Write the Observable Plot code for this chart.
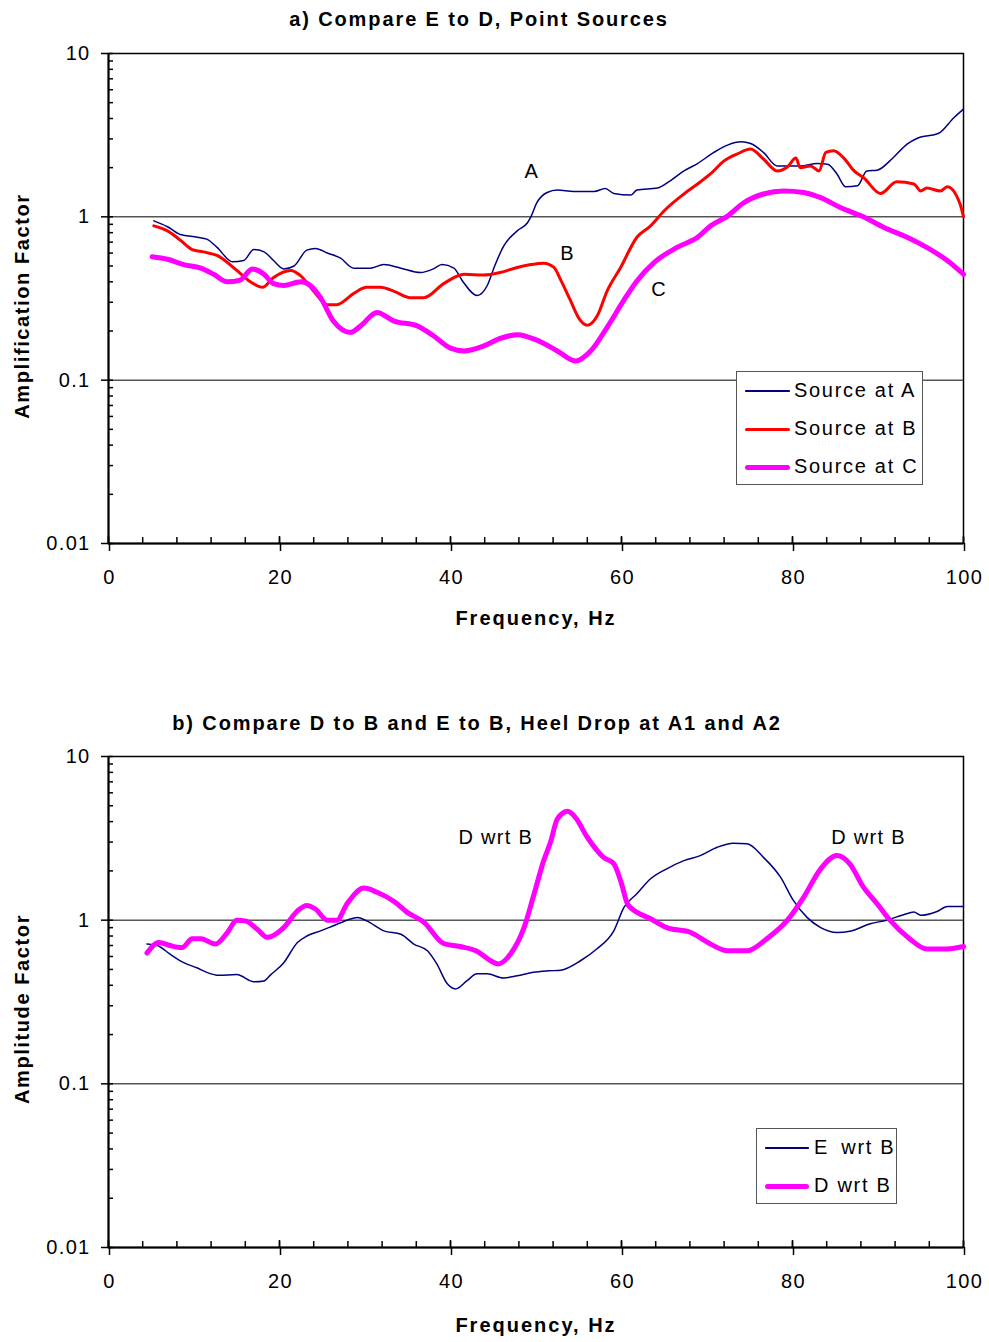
<!DOCTYPE html>
<html><head><meta charset="utf-8">
<script src="https://cdn.jsdelivr.net/npm/d3@7"></script>
<script src="https://cdn.jsdelivr.net/npm/@observablehq/plot@0.6"></script>
<style>
body{margin:0;background:#fff;}
#page{position:relative;width:989px;height:1342px;background:#fff;font-family:"Liberation Sans",Arial,sans-serif;overflow:hidden;}
.abs{position:absolute;white-space:pre;}
.title{font-weight:bold;font-size:20px;letter-spacing:1.9px;transform:translate(-50%,-50%);}
.xlab{font-weight:bold;font-size:20px;letter-spacing:2.0px;transform:translate(-50%,-50%);}
.ylab{font-weight:bold;font-size:20px;letter-spacing:1.6px;transform:translate(-50%,-50%) rotate(-90deg);}
.legend{border:1px solid #555;background:#fff;font-size:20px;letter-spacing:1.7px;}
.row{position:absolute;left:0;height:20px;}
.swatch{position:absolute;left:8px;top:10px;width:45px;}
.ltxt{position:absolute;top:-2px;white-space:pre;}
svg text{letter-spacing:1.3px;}
</style></head>
<body><div id="page"></div>
<script>
// ---------- data: chart a ----------
const aFreq = [5.3,6.9,8.4,10.4,11.5,12.7,14.5,15.8,17.0,18.2,19.3,20.5,21.7,23.2,24.2,25.6,27.1,28.7,30.6,32.2,34.2,36.5,38.0,39.0,40.4,41.4,43.1,44.3,45.1,46.2,47.8,49.0,49.4,50.1,51.3,52.5,54.4,56.8,58.1,59.1,61.1,61.8,64.2,65.7,67.3,68.9,70.8,72.4,74.0,75.1,76.6,78.2,80.9,82.9,84.1,85.2,86.2,87.6,88.7,89.9,91.8,93.4,94.6,97.1,98.9,100];
const aAmp  = [0.945,0.87,0.78,0.75,0.73,0.65,0.53,0.54,0.63,0.61,0.54,0.48,0.50,0.625,0.64,0.60,0.56,0.485,0.485,0.51,0.485,0.456,0.48,0.51,0.485,0.405,0.33,0.38,0.49,0.66,0.82,0.92,1.0,1.22,1.41,1.46,1.43,1.43,1.49,1.39,1.36,1.46,1.50,1.66,1.91,2.12,2.48,2.75,2.88,2.81,2.48,2.05,2.05,2.12,2.1,1.83,1.53,1.55,1.91,1.93,2.31,2.79,3.03,3.25,4.06,4.57];
const bFreq = [5.3,6.9,8.4,9.8,11.1,12.7,15.0,16.6,18.0,19.3,21.3,22.5,24.0,25.6,26.7,28.7,30.2,31.8,33.4,35.3,36.9,39.2,41.6,43.9,45.8,47.8,49.4,50.9,52.1,52.9,54.0,55.0,56.0,57.2,58.3,59.9,61.8,63.4,65.0,67.3,68.9,70.4,72.0,73.5,75.1,76.6,78.2,79.4,80.4,80.9,82.1,83.1,83.9,84.8,86.0,87.2,88.3,90.3,92.2,94.2,95.0,95.7,97.3,98.1,99.6,100];
const bAmp  = [0.88,0.82,0.72,0.63,0.61,0.58,0.47,0.40,0.37,0.425,0.47,0.435,0.35,0.29,0.29,0.34,0.37,0.37,0.35,0.32,0.32,0.39,0.445,0.44,0.456,0.49,0.51,0.52,0.49,0.41,0.31,0.24,0.217,0.25,0.35,0.49,0.75,0.88,1.09,1.38,1.59,1.83,2.2,2.42,2.60,2.26,1.91,2.02,2.29,2.0,2.05,1.91,2.48,2.54,2.29,1.91,1.74,1.39,1.64,1.59,1.44,1.50,1.44,1.53,1.2,1.0];
const cFreq = [5.1,6.9,8.8,10.8,12.3,13.9,15.4,16.8,18.2,19.3,20.5,22.5,23.6,24.8,26.3,28.3,29.5,31.4,33.4,36.1,38.0,40.0,41.6,43.9,45.8,47.8,50.1,52.5,54.6,56.4,58.3,60.3,61.8,63.8,66.5,68.9,70.4,72.4,74.3,76.6,79.0,81.3,83.3,85.6,88.3,90.7,93.4,95.7,98.1,100];
const cAmp  = [0.57,0.55,0.51,0.485,0.445,0.40,0.41,0.48,0.445,0.39,0.38,0.40,0.38,0.32,0.23,0.196,0.215,0.26,0.23,0.215,0.187,0.157,0.151,0.162,0.18,0.19,0.176,0.151,0.131,0.151,0.21,0.31,0.405,0.525,0.65,0.75,0.88,1.01,1.22,1.38,1.44,1.41,1.31,1.14,1.0,0.86,0.75,0.65,0.54,0.445];
// ---------- data: chart b ----------
const eFreq = [4.5,5.7,7.2,8.8,10.4,11.5,12.9,15.0,17.0,18.2,18.9,20.5,22.1,23.2,24.8,26.3,27.9,29.1,30.2,32.2,34.2,35.7,37.3,38.4,39.6,40.6,41.9,43.1,44.3,46.2,47.8,49.7,51.5,52.9,55.2,57.1,59.1,60.3,61.8,63.4,65.3,67.3,69.2,71.2,73.1,74.7,76.6,78.6,80.1,81.7,83.3,85.2,86.7,89.1,91.0,93.0,94.2,95.0,96.9,98.1,100];
const eAmp  = [0.715,0.70,0.62,0.55,0.51,0.48,0.46,0.465,0.42,0.425,0.46,0.55,0.73,0.80,0.86,0.925,1.0,1.04,0.99,0.86,0.82,0.715,0.65,0.54,0.41,0.38,0.425,0.47,0.47,0.443,0.457,0.48,0.49,0.495,0.565,0.667,0.86,1.2,1.45,1.79,2.06,2.31,2.48,2.79,2.95,2.93,2.42,1.83,1.32,1.04,0.90,0.84,0.855,0.95,1.0,1.08,1.12,1.07,1.13,1.21,1.21];
const dFreq = [4.5,5.9,7.2,8.6,9.8,10.8,12.5,13.9,15.0,16.0,17.4,18.6,20.5,22.1,23.2,24.2,25.6,26.7,27.9,29.9,31.4,33.4,34.9,36.9,39.2,41.1,43.1,44.7,45.6,47.0,48.6,49.7,50.9,51.7,52.5,53.7,54.6,56.0,57.9,59.1,59.9,60.8,63.4,65.3,68.1,70.4,72.4,74.7,77.0,79.4,81.3,83.3,85.2,86.7,88.3,89.9,91.4,93.7,95.7,98.1,100];
const dAmp  = [0.63,0.73,0.70,0.68,0.77,0.77,0.715,0.84,1.0,0.99,0.88,0.785,0.90,1.14,1.23,1.17,1.0,1.0,1.26,1.57,1.48,1.30,1.12,0.97,0.72,0.69,0.645,0.565,0.54,0.62,0.90,1.40,2.31,3.0,4.16,4.63,4.25,3.21,2.42,2.21,1.74,1.23,1.02,0.90,0.84,0.715,0.65,0.65,0.77,1.0,1.38,2.06,2.48,2.21,1.59,1.26,1.0,0.77,0.667,0.667,0.69];
// ---------- ticks & labels ----------
const xMajor = [0,20,40,60,80,100];
const xMinor = d3.range(0,101,4);
const yMajor = [0.01,0.1,1,10];
const yMinor = [0.01,0.1,1].flatMap(b => [2,3,4,5,6,7,8,9].map(k => +(b*k).toPrecision(3)));
const gridVals = [0.1,1];
const annA = [{x:49.5,y:1.89,t:"A"},{x:53.7,y:0.593,t:"B"},{x:64.4,y:0.357,t:"C"}];
const annB = [{x:45.3,y:3.2,t:"D wrt B"},{x:88.9,y:3.2,t:"D wrt B"}];

const toRows = (f,a) => f.map((x,i)=>({x, y:a[i]}));
const NAVY="#000080", RED="#ff0000", MAG="#ff00ff";

function makePlot(height, mt, mb, series, ann){
  return Plot.plot({
    width: 989, height,
    marginLeft: 108, marginRight: 26, marginTop: mt, marginBottom: mb,
    x: {domain:[0,100]},
    y: {type:"log", domain:[0.01,10]},
    style: {fontFamily:'"Liberation Sans", Arial, sans-serif', fontSize:"20px", background:"transparent", color:"black"},
    marks: [
      Plot.ruleY(gridVals, {stroke:"black", strokeWidth:1}),
      Plot.frame({stroke:"black", strokeWidth:1.5}),
      Plot.ruleX([0], {stroke:"black", strokeWidth:2}),
      Plot.ruleY([0.01], {stroke:"black", strokeWidth:2}),
      Plot.axisX(xMajor, {tickSize:8, tickPadding:18, tickFormat:d=>String(d), label:null, fontSize:20, strokeWidth:1.5, dx:1}),
      Plot.axisX(xMajor, {tickSize:-7, tickFormat:()=>"", label:null, strokeWidth:1.5}),
      Plot.axisX(xMinor, {tickSize:-6, tickFormat:()=>"", label:null, strokeWidth:1.5}),
      Plot.axisY(yMajor, {tickSize:7, tickPadding:11, tickFormat:d=>String(d), label:null, fontSize:20, strokeWidth:1.5}),
      Plot.axisY(yMajor, {tickSize:-5, tickFormat:()=>"", label:null, strokeWidth:1.5}),
      Plot.axisY(yMinor, {tickSize:-5, tickFormat:()=>"", label:null, strokeWidth:1.5}),
      ...series.map(s => Plot.line(toRows(s.f, s.a), {x:"x", y:"y", stroke:s.c, strokeWidth:s.w, curve:"monotone-x"})),
      Plot.text(ann, {x:"x", y:"y", text:"t", fontSize:20, fill:"black"})
    ]
  });
}

const page = document.getElementById("page");
function place(el, top){ const d=document.createElement("div"); d.className="abs"; d.style.left="0px"; d.style.top=top+"px"; d.appendChild(el); page.appendChild(d); }

place(makePlot(650, 53, 107, [
  {f:aFreq,a:aAmp,c:NAVY,w:1.5},
  {f:bFreq,a:bAmp,c:RED,w:3},
  {f:cFreq,a:cAmp,c:MAG,w:5}
], annA), 0);
place(makePlot(642, 56, 95, [
  {f:eFreq,a:eAmp,c:NAVY,w:1.5},
  {f:dFreq,a:dAmp,c:MAG,w:5}
], annB), 700);

function addText(cls, txt, x, y){ const d=document.createElement("div"); d.className="abs "+cls; d.style.left=x+"px"; d.style.top=y+"px"; d.textContent=txt; page.appendChild(d); }
addText("title","a) Compare E to D, Point Sources",479,19);
addText("title","b) Compare D to B and E to B, Heel Drop at A1 and A2",477,723);
addText("xlab","Frequency, Hz",536,618);
addText("xlab","Frequency, Hz",536,1325);
addText("ylab","Amplification Factor",22,306);
addText("ylab","Amplitude Factor",22,1009);

function legend(x,y,w,h,items){
  const box=document.createElement("div"); box.className="abs legend";
  box.style.left=x+"px"; box.style.top=y+"px"; box.style.width=w+"px"; box.style.height=h+"px";
  items.forEach(it=>{
    const r=document.createElement("div"); r.className="row"; r.style.top=it.ty+"px"; r.style.width=w+"px";
    const sw=document.createElement("div"); sw.className="swatch"; sw.style.width=it.sw+"px"; sw.style.height=it.w+"px"; sw.style.marginTop=(-it.w/2)+"px"; sw.style.background=it.c; sw.style.borderRadius=(it.w/2)+"px";
    const t=document.createElement("div"); t.className="ltxt"; t.style.left=it.tx+"px";
    const words = it.label.split(" ");
    const first = document.createElement("span"); first.textContent = words[0];
    if (it.gap) first.style.marginRight = it.gap+"px";
    t.appendChild(first);
    t.appendChild(document.createTextNode(" " + words.slice(1).join(" ")));
    r.appendChild(sw); r.appendChild(t); box.appendChild(r);
  });
  page.appendChild(box);
}
legend(736,371,185,112,[
  {label:"Source at A", c:NAVY, w:1.5, ty:9, tx:57, sw:45},
  {label:"Source at B", c:RED, w:3, ty:47, tx:57, sw:45},
  {label:"Source at C", c:MAG, w:5, ty:85, tx:57, sw:45}
]);
legend(756,1128,139,74,[
  {label:"E wrt B", c:NAVY, w:1.5, ty:9, tx:57, sw:44, gap:5},
  {label:"D wrt B", c:MAG, w:5, ty:47, tx:57, sw:44}
]);
</script></body></html>
